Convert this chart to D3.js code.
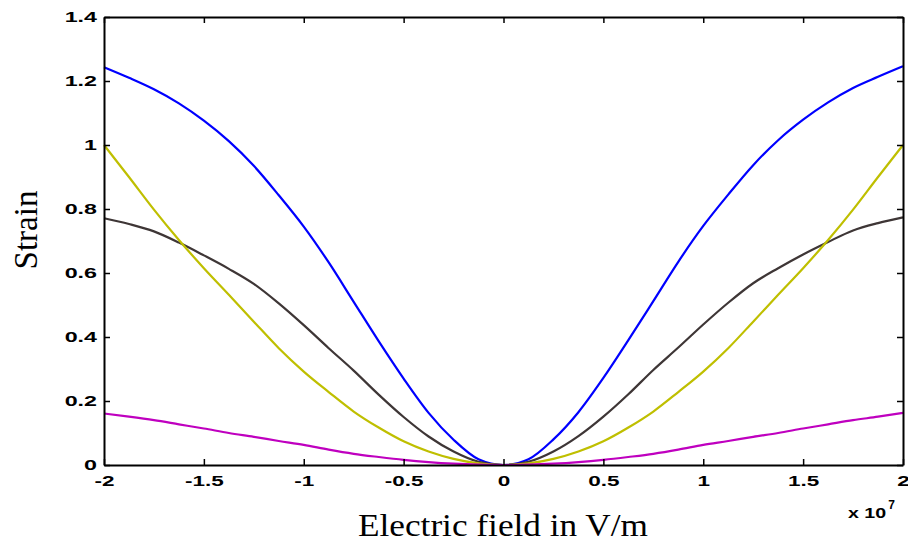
<!DOCTYPE html>
<html><head><meta charset="utf-8">
<script src="https://cdn.jsdelivr.net/npm/d3@7"></script>
<style>body{margin:0;background:#fff}</style>
</head><body>
<svg id="c" width="908" height="544"></svg>
<script>
const fieldX = [-2,-1.875,-1.75,-1.625,-1.5,-1.375,-1.25,-1.125,-1,-0.875,-0.75,-0.625,-0.5,-0.375,-0.25,-0.125,0,
  0.125,0.25,0.375,0.5,0.625,0.75,0.875,1,1.125,1.25,1.375,1.5,1.625,1.75,1.875,2];
const blueStrain = [1.243,1.21,1.174,1.13,1.076,1.012,0.935,0.843,0.745,0.633,0.51,0.387,0.27,0.163,0.079,0.018,0,
  0.018,0.08,0.165,0.272,0.39,0.512,0.635,0.747,0.845,0.937,1.015,1.079,1.133,1.178,1.213,1.246];
const grayStrain = [0.771,0.753,0.73,0.695,0.655,0.613,0.566,0.505,0.437,0.365,0.295,0.22,0.15,0.089,0.042,0.01,0,
  0.01,0.042,0.09,0.151,0.221,0.297,0.367,0.439,0.507,0.568,0.615,0.658,0.697,0.733,0.756,0.774];
const yellowStrain = [1.0,0.9,0.798,0.703,0.615,0.532,0.448,0.365,0.292,0.228,0.167,0.117,0.074,0.042,0.019,0.005,0,
  0.005,0.019,0.042,0.074,0.117,0.167,0.228,0.292,0.365,0.448,0.532,0.615,0.703,0.798,0.9,1.0];
const magentaStrain = [0.161,0.151,0.14,0.127,0.114,0.1,0.088,0.075,0.063,0.048,0.035,0.025,0.016,0.009,0.004,0.001,0,
  0.001,0.004,0.009,0.016,0.025,0.035,0.048,0.063,0.075,0.088,0.1,0.114,0.127,0.14,0.151,0.163];
const xTicks = [-2,-1.5,-1,-0.5,0,0.5,1,1.5,2];
const yTicks = [0,0.2,0.4,0.6,0.8,1,1.2,1.4];
const seriesColors = ["#0000ff","#3e3636","#bfbf00","#bf00bf"];

const svg = d3.select("#c");
const L=104, R=903, T=17, B=465;
const x = d3.scaleLinear().domain([-2,2]).range([L,R]);
const y = d3.scaleLinear().domain([0,1.4]).range([B,T]);

const series = [blueStrain, grayStrain, yellowStrain, magentaStrain];
const line = d3.line().x((d,i)=>x(fieldX[i])).y(d=>y(d)).curve(d3.curveMonotoneX);
series.forEach((s,k)=>{
  svg.append("path").datum(s).attr("d",line).attr("fill","none")
    .attr("stroke",seriesColors[k]).attr("stroke-width",2.2);
});

const fmt = d=>String(d);
const gx = svg.append("g").attr("transform",`translate(0,${B})`)
  .call(d3.axisBottom(x).tickValues(xTicks).tickFormat(fmt).tickSizeInner(-6).tickSizeOuter(0).tickPadding(10));
const gt = svg.append("g").attr("transform",`translate(0,${T})`)
  .call(d3.axisTop(x).tickValues(xTicks).tickFormat("").tickSizeInner(-6).tickSizeOuter(0));
const gy = svg.append("g").attr("transform",`translate(${L},0)`)
  .call(d3.axisLeft(y).tickValues(yTicks).tickFormat(fmt).tickSizeInner(-6).tickSizeOuter(0).tickPadding(7));
const gr = svg.append("g").attr("transform",`translate(${R},0)`)
  .call(d3.axisRight(y).tickValues(yTicks).tickFormat("").tickSizeInner(-6).tickSizeOuter(0));

function stretch(sel, k){
  sel.each(function(){
    const w = this.getComputedTextLength();
    if (w>0) d3.select(this).attr("textLength", w*k).attr("lengthAdjust","spacingAndGlyphs");
  });
}
[gx,gt,gy,gr].forEach(g=>{
  g.select(".domain").attr("stroke","#000").attr("stroke-width",2);
  g.selectAll(".tick line").attr("stroke","#000").attr("stroke-width",1.5);
  g.selectAll("text").attr("fill","#000").attr("font-family","Liberation Sans, Arial, sans-serif")
    .attr("font-size",15).attr("font-weight","bold");
});
stretch(gx.selectAll("text"),1.5);
stretch(gy.selectAll("text"),1.55);

const ex = svg.append("text").attr("x",848).attr("y",518)
  .attr("font-family","Liberation Sans, Arial, sans-serif").attr("font-size",14).attr("font-weight","bold");
const t1 = ex.append("tspan").text("x 10");
stretch(t1,1.4);
ex.append("tspan").attr("dy",-9).attr("dx",2).attr("font-size",12).text("7");

const xl = svg.append("text").attr("x",503).attr("y",536).attr("text-anchor","middle")
  .attr("font-family","Liberation Serif, Times New Roman, serif").attr("font-size",31)
  .text("Electric field in V/m");
xl.attr("textLength",290).attr("lengthAdjust","spacingAndGlyphs");
svg.append("text").attr("transform","translate(37,230) rotate(-90)").attr("text-anchor","middle")
  .attr("font-family","Liberation Serif, Times New Roman, serif").attr("font-size",33)
  .text("Strain");
</script>
</body></html>
